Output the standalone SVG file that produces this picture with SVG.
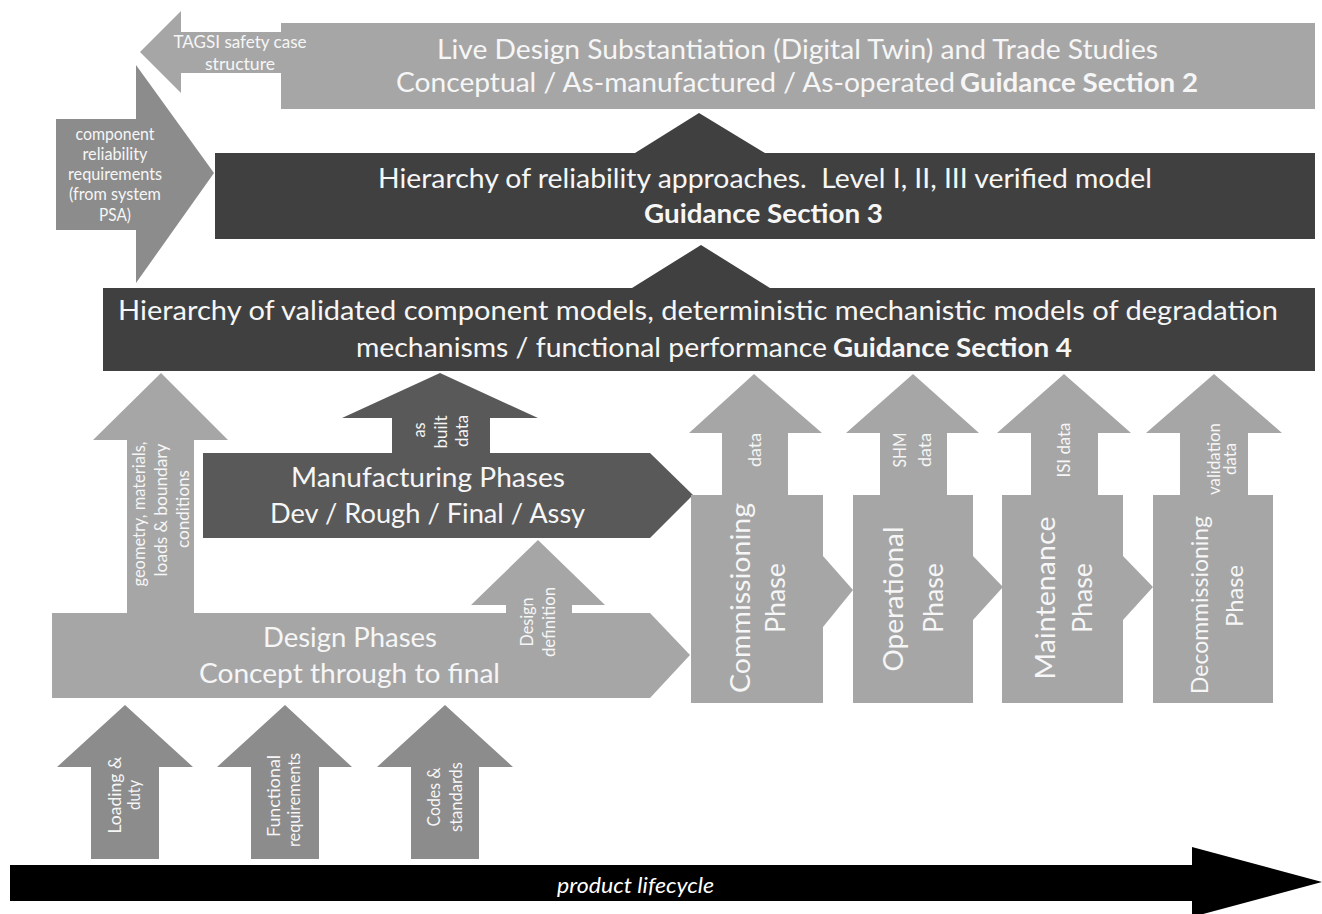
<svg xmlns="http://www.w3.org/2000/svg" width="1322" height="914" viewBox="0 0 1322 914">
  <style>
    .light { fill: #a6a6a6; }
    .mid { fill: #8c8c8c; }
    .dark { fill: #404040; }
    .mfg { fill: #595959; }
    .life { fill: #000000; }
    text { font-family: Lato, "Liberation Sans", sans-serif; fill: #f6f6f6; }
    .big { font-size: 27px; }
    .phase { font-size: 27px; }
    .sub { font-size: 23px; }
    .small { font-size: 17px; }
    .b { font-weight: 700; }
    .it { font-style: italic; font-size: 21.5px; fill: #ffffff; }
  </style>

  <rect width="1322" height="914" fill="#ffffff"/>

  <!-- block connectors: pointers between boxes and chevrons between phases -->
  <g id="connectors">
    <polygon class="dark" points="635,153 699,113 765,153"/>
    <polygon class="dark" points="632,288 701,245 770,288"/>
    <polygon class="light" points="823,556 853,590 823,627"/>
    <polygon class="light" points="973,556 1003,587 973,620"/>
    <polygon class="light" points="1123,556 1153,587 1123,620"/>
  </g>

  <g id="section2">
    <rect class="light" x="281" y="23" width="1034" height="86"/>
    <text class="big" x="437" y="59" textLength="721" lengthAdjust="spacingAndGlyphs">Live Design Substantiation (Digital Twin) and Trade Studies</text>
    <text class="big" x="396" y="92" textLength="559" lengthAdjust="spacingAndGlyphs">Conceptual / As-manufactured / As-operated</text>
    <text class="big b" x="960" y="92" textLength="238" lengthAdjust="spacingAndGlyphs">Guidance Section 2</text>
  </g>

  <g id="tagsi">
    <polygon class="light" points="281,32 181,32 181,11 140,52 181,93 181,73 281,73"/>
    <text class="small" x="240" y="48" text-anchor="middle" textLength="133" lengthAdjust="spacingAndGlyphs">TAGSI safety case</text>
    <text class="small" x="240" y="70" text-anchor="middle" textLength="70" lengthAdjust="spacingAndGlyphs">structure</text>
  </g>

  <g id="component-requirements">
    <polygon class="mid" points="56,119 136,119 136,65 214,173 136,283 136,230 56,230"/>
    <text class="small" x="115" y="140" text-anchor="middle" textLength="79" lengthAdjust="spacingAndGlyphs">component</text>
    <text class="small" x="115" y="160" text-anchor="middle" textLength="65" lengthAdjust="spacingAndGlyphs">reliability</text>
    <text class="small" x="115" y="180" text-anchor="middle" textLength="94" lengthAdjust="spacingAndGlyphs">requirements</text>
    <text class="small" x="115" y="200" text-anchor="middle" textLength="92" lengthAdjust="spacingAndGlyphs">(from system</text>
    <text class="small" x="115" y="221" text-anchor="middle" textLength="32" lengthAdjust="spacingAndGlyphs">PSA)</text>
  </g>

  <g id="section3">
    <rect class="dark" x="215" y="153" width="1100" height="86"/>
    <text class="big" x="378" y="188" textLength="774" lengthAdjust="spacingAndGlyphs">Hierarchy of reliability approaches.&#160; Level I, II, III verified model</text>
    <text class="big b" x="644" y="223" textLength="239" lengthAdjust="spacingAndGlyphs">Guidance Section 3</text>
  </g>

  <g id="section4">
    <rect class="dark" x="103" y="288" width="1212" height="83"/>
    <text class="big" x="118" y="320" textLength="1160" lengthAdjust="spacingAndGlyphs">Hierarchy of validated component models, deterministic mechanistic models of degradation</text>
    <text class="big" x="356" y="357" textLength="471" lengthAdjust="spacingAndGlyphs">mechanisms / functional performance</text>
    <text class="big b" x="833" y="357" textLength="239" lengthAdjust="spacingAndGlyphs">Guidance Section 4</text>
  </g>

  <g id="geometry">
    <polygon class="light" points="127,613 127,440 93,440 161,373 228,440 194,440 194,613"/>
    <text class="small" transform="translate(145,514) rotate(-90)" text-anchor="middle" textLength="145" lengthAdjust="spacingAndGlyphs">geometry, materials,</text>
    <text class="small" transform="translate(167,510) rotate(-90)" text-anchor="middle" textLength="133" lengthAdjust="spacingAndGlyphs">loads &amp; boundary</text>
    <text class="small" transform="translate(189,509) rotate(-90)" text-anchor="middle" textLength="78" lengthAdjust="spacingAndGlyphs">conditions</text>
  </g>

  <g id="as-built">
    <polygon class="mfg" points="392,453 392,418 342,418 440,373 538,418 490,418 490,453"/>
    <text class="small" transform="translate(425,430) rotate(-90)" text-anchor="middle" textLength="15" lengthAdjust="spacingAndGlyphs">as</text>
    <text class="small" transform="translate(447,432) rotate(-90)" text-anchor="middle" textLength="33" lengthAdjust="spacingAndGlyphs">built</text>
    <text class="small" transform="translate(468,431) rotate(-90)" text-anchor="middle" textLength="32" lengthAdjust="spacingAndGlyphs">data</text>
  </g>

  <g id="manufacturing">
    <polygon class="mfg" points="203,453 650,453 693,495 650,538 203,538"/>
    <text class="big" x="291" y="487" textLength="274" lengthAdjust="spacingAndGlyphs">Manufacturing Phases</text>
    <text class="big" x="270" y="523" textLength="315" lengthAdjust="spacingAndGlyphs">Dev / Rough / Final / Assy</text>
  </g>

  <g id="design">
    <polygon class="light" points="52,613 650,613 690,655 650,698 52,698"/>
    <text class="big" x="263" y="647" textLength="174" lengthAdjust="spacingAndGlyphs">Design Phases</text>
    <text class="big" x="199" y="683" textLength="301" lengthAdjust="spacingAndGlyphs">Concept through to final</text>
  </g>

  <g id="design-definition">
    <polygon class="light" points="506,614 506,605 471,605 538,540 605,605 572,605 572,614"/>
    <text class="small" transform="translate(533,622) rotate(-90)" text-anchor="middle" textLength="49" lengthAdjust="spacingAndGlyphs">Design</text>
    <text class="small" transform="translate(555,622) rotate(-90)" text-anchor="middle" textLength="70" lengthAdjust="spacingAndGlyphs">definition</text>
  </g>

  <g id="commissioning">
    <polygon class="light" points="691,495 722,495 722,433 689,433 754,374 822,433 788,433 788,495 823,495 823,703 691,703"/>
    <text class="small" transform="translate(761,450) rotate(-90)" text-anchor="middle" textLength="34" lengthAdjust="spacingAndGlyphs">data</text>
    <text class="phase" transform="translate(750,598) rotate(-90)" text-anchor="middle" textLength="190" lengthAdjust="spacingAndGlyphs">Commissioning</text>
    <text class="phase" transform="translate(785,598) rotate(-90)" text-anchor="middle" textLength="70" lengthAdjust="spacingAndGlyphs">Phase</text>
  </g>

  <g id="operational">
    <polygon class="light" points="853,495 880,495 880,433 846,433 913,374 979,433 947,433 947,495 973,495 973,703 853,703"/>
    <text class="small" transform="translate(906,450) rotate(-90)" text-anchor="middle" textLength="35" lengthAdjust="spacingAndGlyphs">SHM</text>
    <text class="small" transform="translate(931,450) rotate(-90)" text-anchor="middle" textLength="34" lengthAdjust="spacingAndGlyphs">data</text>
    <text class="phase" transform="translate(903,599) rotate(-90)" text-anchor="middle" textLength="145" lengthAdjust="spacingAndGlyphs">Operational</text>
    <text class="phase" transform="translate(943,598) rotate(-90)" text-anchor="middle" textLength="70" lengthAdjust="spacingAndGlyphs">Phase</text>
  </g>

  <g id="maintenance">
    <polygon class="light" points="1002,495 1031,495 1031,433 997,433 1064,374 1131,433 1098,433 1098,495 1123,495 1123,703 1002,703"/>
    <text class="small" transform="translate(1070,450) rotate(-90)" text-anchor="middle" textLength="55" lengthAdjust="spacingAndGlyphs">ISI data</text>
    <text class="phase" transform="translate(1055,598) rotate(-90)" text-anchor="middle" textLength="163" lengthAdjust="spacingAndGlyphs">Maintenance</text>
    <text class="phase" transform="translate(1092,598) rotate(-90)" text-anchor="middle" textLength="70" lengthAdjust="spacingAndGlyphs">Phase</text>
  </g>

  <g id="decommissioning">
    <polygon class="light" points="1153,495 1180,495 1180,433 1146,433 1214,374 1282,433 1248,433 1248,495 1273,495 1273,703 1153,703"/>
    <text class="small" transform="translate(1220,459) rotate(-90)" text-anchor="middle" textLength="72" lengthAdjust="spacingAndGlyphs">validation</text>
    <text class="small" transform="translate(1236,459) rotate(-90)" text-anchor="middle" textLength="32" lengthAdjust="spacingAndGlyphs">data</text>
    <text class="sub" transform="translate(1208,605) rotate(-90)" text-anchor="middle" textLength="178" lengthAdjust="spacingAndGlyphs">Decommissioning</text>
    <text class="sub" transform="translate(1243,596) rotate(-90)" text-anchor="middle" textLength="62" lengthAdjust="spacingAndGlyphs">Phase</text>
  </g>

  <g id="loading">
    <polygon class="mid" points="91,859 91,767 57,767 125,705 193,767 159,767 159,859"/>
    <text class="small" transform="translate(121,795) rotate(-90)" text-anchor="middle" textLength="77" lengthAdjust="spacingAndGlyphs">Loading &amp;</text>
    <text class="small" transform="translate(140,795) rotate(-90)" text-anchor="middle" textLength="30" lengthAdjust="spacingAndGlyphs">duty</text>
  </g>

  <g id="functional">
    <polygon class="mid" points="251,859 251,767 217,767 285,705 352,767 319,767 319,859"/>
    <text class="small" transform="translate(280,796) rotate(-90)" text-anchor="middle" textLength="82" lengthAdjust="spacingAndGlyphs">Functional</text>
    <text class="small" transform="translate(300,800) rotate(-90)" text-anchor="middle" textLength="94" lengthAdjust="spacingAndGlyphs">requirements</text>
  </g>

  <g id="codes">
    <polygon class="mid" points="411,859 411,767 377,767 445,705 513,767 479,767 479,859"/>
    <text class="small" transform="translate(440,797) rotate(-90)" text-anchor="middle" textLength="59" lengthAdjust="spacingAndGlyphs">Codes &amp;</text>
    <text class="small" transform="translate(462,797) rotate(-90)" text-anchor="middle" textLength="70" lengthAdjust="spacingAndGlyphs">standards</text>
  </g>

  <g id="lifecycle">
    <polygon class="life" points="10,865 1192,865 1192,847 1322,882 1192,917 1192,901 10,901"/>
    <text class="it" x="557" y="893" textLength="157" lengthAdjust="spacingAndGlyphs">product lifecycle</text>
  </g>
</svg>
